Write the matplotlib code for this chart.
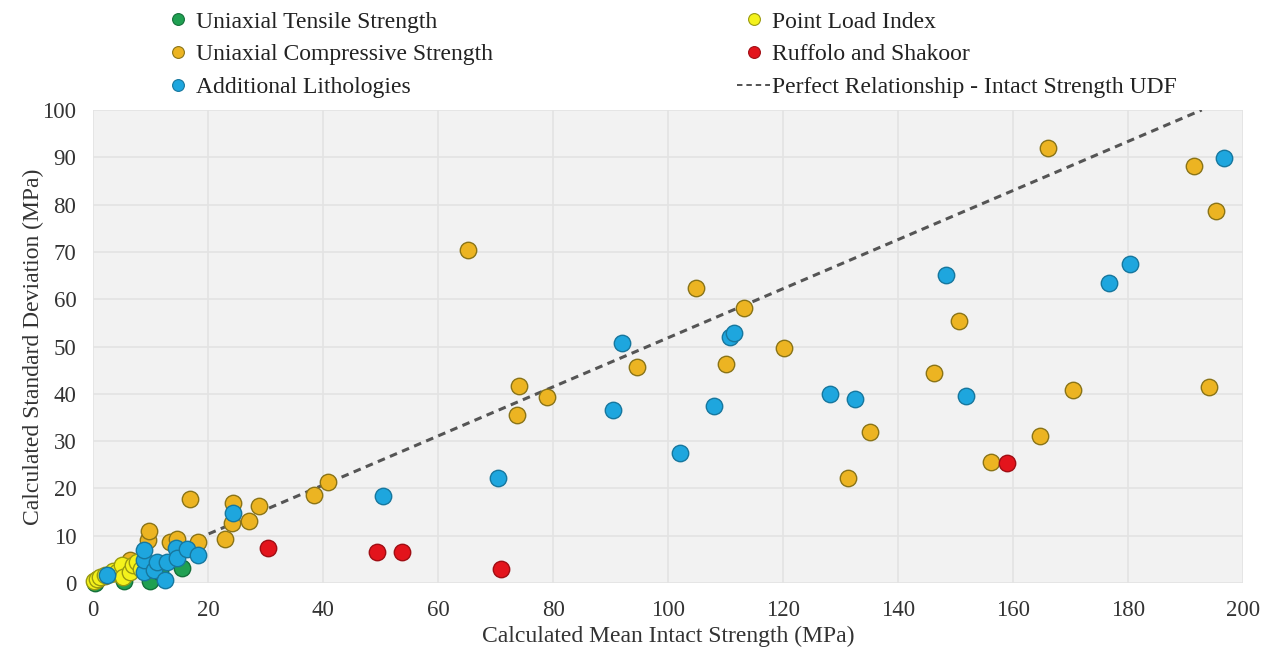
import matplotlib.pyplot as plt
from matplotlib.lines import Line2D

plt.rcParams['font.family'] = ['Liberation Serif', 'DejaVu Serif']

# Uniaxial tensile strength
uts_mean = [0.3, 5.3, 9.9, 11.7, 15.5]
uts_sd = [0.1, 0.4, 0.5, 2.4, 3.1]

# Point load index
pli_mean = [0.1, 0.6, 1.2, 2.0, 3.0, 3.5, 4.2, 5.0, 5.2, 6.4, 7.0, 7.6, 8.3]
pli_sd = [0.4, 0.8, 1.3, 1.6, 2.0, 2.6, 2.4, 3.8, 1.3, 2.4, 3.8, 4.4, 3.0]

# Uniaxial compressive strength
ucs_mean = [0.8, 2.0, 3.6, 4.3, 5.5, 6.4, 9.6, 9.8, 13.4, 14.6, 18.3, 16.8,
            23.0, 24.1, 24.4, 27.1, 28.8, 38.5, 40.9, 65.2, 73.7, 74.0, 78.9,
            94.6, 104.9, 110.1, 113.2, 120.2, 131.3, 135.1, 146.2, 150.6,
            156.2, 164.6, 166.0, 170.5, 191.5, 194.1, 195.2]
ucs_sd = [0.9, 1.5, 2.2, 2.8, 3.0, 4.9, 9.0, 11.0, 8.7, 9.3, 8.6, 17.7,
          9.4, 12.6, 17.0, 13.1, 16.3, 18.6, 21.4, 70.5, 35.5, 41.7, 39.4,
          45.7, 62.4, 46.2, 58.1, 49.6, 22.3, 31.9, 44.3, 55.4,
          25.6, 31.1, 91.9, 40.9, 88.2, 41.5, 78.6]

# Additional lithologies
add_mean = [2.4, 8.8, 8.8, 8.8, 10.6, 11.1, 12.5, 12.8, 14.5, 14.6, 16.3,
            18.3, 24.3, 50.4, 70.5, 90.5, 91.9, 102.0, 107.9, 110.8, 111.4,
            128.2, 132.5, 148.3, 151.8, 176.7, 180.3, 196.7]
add_sd = [1.7, 2.4, 4.9, 7.0, 2.7, 4.5, 0.6, 4.5, 7.3, 5.3, 7.2,
          5.9, 14.7, 18.5, 22.3, 36.6, 50.7, 27.4, 37.5, 52.0, 52.8,
          40.0, 39.0, 65.2, 39.6, 63.4, 67.4, 89.8]

# Ruffolo and Shakoor
rs_mean = [30.5, 49.4, 53.7, 71.0, 159.0]
rs_sd = [7.3, 6.6, 6.6, 2.9, 25.4]

# Intact strength UDF relationship
udf_mean = [18.0, 192.8]
udf_sd = [9.3, 100.0]

# drawing order: later series sit on top
series = [
    ("Uniaxial Tensile Strength", uts_mean, uts_sd, "#20a052", "#14703a"),
    ("Uniaxial Compressive Strength", ucs_mean, ucs_sd, "#ecb422", "#8a7418"),
    ("Point Load Index", pli_mean, pli_sd, "#f4f21c", "#9a9a10"),
    ("Additional Lithologies", add_mean, add_sd, "#1ea6de", "#17779e"),
    ("Ruffolo and Shakoor", rs_mean, rs_sd, "#e3141c", "#a00e14"),
]

fig = plt.figure(figsize=(12.75, 6.57), dpi=100)
ax = fig.add_axes([0.073, 0.1126, 0.902, 0.72])
ax.set_facecolor("#f2f2f2")

handles = {}
for name, xs, ys, face, edge in series:
    ax.scatter(xs, ys, s=140, c=face, edgecolors=edge, linewidths=1.0,
               zorder=3, clip_on=False)
    handles[name] = Line2D([], [], marker="o", linestyle="none", markersize=8.5,
                           markerfacecolor=face, markeredgecolor=edge, markeredgewidth=0.8)

ax.plot(udf_mean, udf_sd, color="#555555", linewidth=2.2,
        linestyle=(0, (2.5, 1.8)), zorder=2)
handles["Perfect Relationship - Intact Strength UDF"] = Line2D(
    [], [], color="#444444", linewidth=1.3, linestyle=(0, (3, 2.2)))

ax.set_xlim(0, 200)
ax.set_ylim(0, 100)
ax.set_xticks(range(0, 201, 20))
ax.set_yticks(range(0, 101, 10))
ax.grid(True, color="#e3e3e3", linewidth=1.2)
ax.set_axisbelow(True)
for side in ["top", "right", "left", "bottom"]:
    ax.spines[side].set_visible(False)
ax.tick_params(length=0, labelsize=16.5, colors="#333333", pad=12)
ax.set_xlabel("Calculated Mean Intact Strength (MPa)", fontsize=17, color="#333333", labelpad=4)
ax.set_ylabel("Calculated Standard Deviation (MPa)", fontsize=17, color="#333333", labelpad=-1)

left = ["Uniaxial Tensile Strength", "Uniaxial Compressive Strength", "Additional Lithologies"]
right = ["Point Load Index", "Ruffolo and Shakoor", "Perfect Relationship - Intact Strength UDF"]
for names, xpos in [(left, 161 / 1275), (right, 737 / 1275)]:
    fig.legend([handles[n] for n in names], names, loc="upper left",
               bbox_to_anchor=(xpos, 1 - 11 / 657), frameon=False, fontsize=17,
               handlelength=1.4, handletextpad=0.1, labelspacing=0.47,
               borderpad=0.0, borderaxespad=0.0, labelcolor="#222222")

fig.savefig("out.png", dpi=100)
